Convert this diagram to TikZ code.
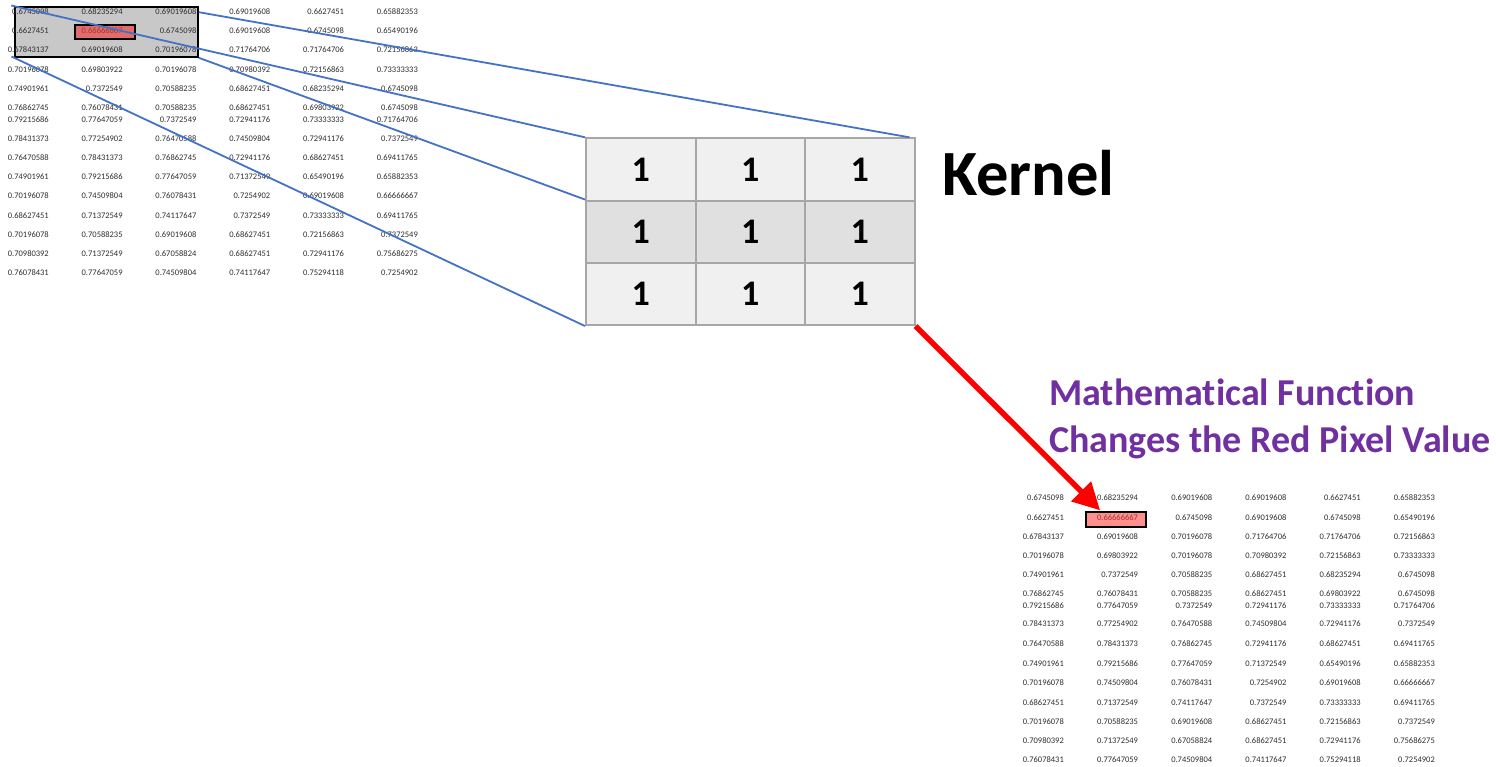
\documentclass[tikz,border=0pt]{standalone}
\usepackage{fontspec}
\setmainfont[Ligatures=NoCommon]{Carlito}
\usetikzlibrary{calc,arrows.meta}

\definecolor{linkblue}{HTML}{4472C4}
\definecolor{kgrid}{HTML}{A6A6A6}
\definecolor{klight}{HTML}{F0F0F0}
\definecolor{kdark}{HTML}{E0E0E0}
\definecolor{winfill}{HTML}{C8C8C8}
\definecolor{hotfill}{HTML}{E06C6C}
\definecolor{hotfillb}{HTML}{FF8F8F}
\definecolor{hottext}{HTML}{A83232}
\definecolor{fnpurple}{HTML}{7030A0}

\tikzset{
  val/.style={anchor=east, inner sep=0pt, font=\fontsize{8.5}{10}\selectfont, text=black!82},
  kcell/.style={draw=kgrid, line width=2pt, minimum width=109.5pt, minimum height=62.3pt,
                inner sep=0pt, font=\fontsize{36}{40}\selectfont\bfseries},
  hotcell/.style={draw=black, line width=1.8pt, minimum width=60pt, minimum height=14pt, inner sep=0pt},
  link/.style={draw=linkblue, line width=1.8pt},
  bigword/.style={anchor=base west, inner sep=0pt},
}

\begin{document}
\begin{tikzpicture}[x=1pt,y=-1pt]
\useasboundingbox[fill=white] (0,0) rectangle (1496,767);

% sliding window over the input values
\node[draw=black, line width=1.6pt, fill=winfill, minimum width=183pt, minimum height=50pt, inner sep=0pt] (win) at (106.5,32) {};
\node[hotcell, fill=hotfill] (hota) at (105,32) {};
% output copy of the values, with the updated pixel
\node[hotcell, fill=hotfillb, minimum height=14.5pt] (hotb) at (1116,519.5) {};

% the two value tables (top: input, bottom: output)
\foreach \r/\yt/\yb/\vals in {
  1/12/498/{0.6745098,0.68235294,0.69019608,0.69019608,0.6627451,0.65882353},
  2/31/518/{0.6627451,0.66666667,0.6745098,0.69019608,0.6745098,0.65490196},
  3/50/537/{0.67843137,0.69019608,0.70196078,0.71764706,0.71764706,0.72156863},
  4/70/556/{0.70196078,0.69803922,0.70196078,0.70980392,0.72156863,0.73333333},
  5/89/575/{0.74901961,0.7372549,0.70588235,0.68627451,0.68235294,0.6745098},
  6/108/594/{0.76862745,0.76078431,0.70588235,0.68627451,0.69803922,0.6745098},
  7/120/606/{0.79215686,0.77647059,0.7372549,0.72941176,0.73333333,0.71764706},
  8/139/624/{0.78431373,0.77254902,0.76470588,0.74509804,0.72941176,0.7372549},
  9/158/644/{0.76470588,0.78431373,0.76862745,0.72941176,0.68627451,0.69411765},
  10/177/664/{0.74901961,0.79215686,0.77647059,0.71372549,0.65490196,0.65882353},
  11/196/683/{0.70196078,0.74509804,0.76078431,0.7254902,0.69019608,0.66666667},
  12/216/703/{0.68627451,0.71372549,0.74117647,0.7372549,0.73333333,0.69411765},
  13/235/722/{0.70196078,0.70588235,0.69019608,0.68627451,0.72156863,0.7372549},
  14/254/741/{0.70980392,0.71372549,0.67058824,0.68627451,0.72941176,0.75686275},
  15/273/760/{0.76078431,0.77647059,0.74509804,0.74117647,0.75294118,0.7254902}}
{
  \foreach \v [count=\c] in \vals {
    \ifnum\r=2 \ifnum\c=2 \def\tc{hottext}\else\def\tc{black!82}\fi\else\def\tc{black!82}\fi
    \node[val, text=\tc] (t\r-\c) at ({49+(\c-1)*73.8},\yt) {\v};
    \node[val, text=\tc] (b\r-\c) at ({1064+(\c-1)*74.2},\yb) {\v};
  }
}

% 3x3 kernel
\foreach \r/\y/\fc in {1/169.5/klight, 2/231.7/kdark, 3/293.9/klight}{
  \foreach \c/\x in {1/640.8, 2/750.3, 3/859.8}{
    \node[kcell, fill=\fc] (k\r-\c) at (\x,\y) {1};
  }
}

% projection lines from the window onto the kernel
\draw[link, shorten <=-3pt] (win.north west) -- (k1-1.north west);
\draw[link] ($(win.north east)+(0,6)$) -- ($(k1-3.north east)+(-6,0)$);
\draw[link] (win.south east) -- (k2-1.north west);
\draw[link, shorten <=-3pt] (win.south west) -- (k3-1.south west);

% labels
\node[bigword, font=\fontsize{64.5}{72}\selectfont\bfseries] (klabel) at (942,196) {Kernel};
\node[bigword, font=\fontsize{38}{47}\selectfont\bfseries, text=fnpurple] (fn1) at (1049,405) {Mathematical Function};
\node[bigword, font=\fontsize{38}{47}\selectfont\bfseries, text=fnpurple] (fn2) at (1049,452) {Changes the Red Pixel Value};

% result arrow into the updated pixel
\coordinate (tip) at ($(hotb.north west)+(15,-1)$);
\draw[red, line width=5.5pt, -{Triangle[length=27pt,width=27pt]}] (k3-3.south east) -- (tip);
\end{tikzpicture}
\end{document}
